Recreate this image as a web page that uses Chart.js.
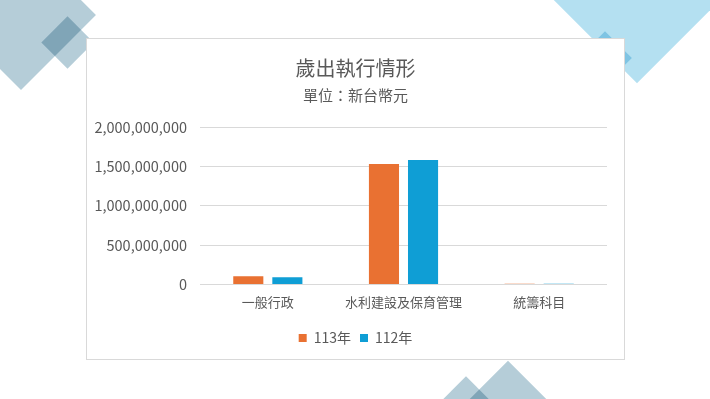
<!DOCTYPE html>
<html lang="zh-Hant">
<head>
  <meta charset="UTF-8" />
  <title>歲出執行情形</title>
  <script src="https://cdn.jsdelivr.net/npm/chart.js"></script>
  <style>
    * { box-sizing: border-box; }

    body {
      margin: 0;
      width: 710px;
      height: 399px;
      overflow: hidden;
      background: #fff;
      position: relative;
      font-family: 'Noto Sans CJK TC', sans-serif;
    }

    .deco {
      position: absolute;
      transform: rotate(45deg);
      mix-blend-mode: multiply;
    }
    .steel { background: #b5cdd8; }
    .sky { background: #b4e0f1; }

    .card {
      position: absolute;
      left: 86px;
      top: 38px;
      width: 539px;
      height: 322px;
      background: #fff;
      border: 1px solid #d9d9d9;
      z-index: 2;
    }
  </style>
</head>
<body>

<!-- background diamonds -->
<div class="deco steel" style="left:-32px; top:-38px; width:106px; height:106px;"></div>
<div class="deco steel" style="left:49px; top:24px; width:37px; height:37px;"></div>
<div class="deco sky" style="left:564px; top:-93px; width:146px; height:146px;"></div>
<div class="deco sky" style="left:586px; top:39px; width:38px; height:38px;"></div>
<div class="deco steel" style="left:476px; top:374px; width:64px; height:64px;"></div>
<div class="deco steel" style="left:445px; top:385px; width:42px; height:42px;"></div>

<div class="card">
  <canvas id="budgetChart" width="537" height="320"></canvas>
</div>

<script>
  const categories = ['一般行政', '水利建設及保育管理', '統籌科目'];
  const seriesNames = ['113年', '112年'];
  const values113 = [105000000, 1530000000, 8000000];
  const values112 = [92000000, 1580000000, 7000000];
  const yTicks = [0, 500000000, 1000000000, 1500000000, 2000000000];

  const textColor = '#595959';
  const fontFamily = "'Noto Sans CJK TC', sans-serif";

  const ctx = document.getElementById('budgetChart').getContext('2d');

  new Chart(ctx, {
    type: 'bar',
    data: {
      labels: categories,
      datasets: [
        { label: seriesNames[0], data: values113, backgroundColor: '#e97132' },
        { label: seriesNames[1], data: values112, backgroundColor: '#0f9ed5' }
      ]
    },
    options: {
      responsive: false,
      animation: false,
      categoryPercentage: 0.576,
      barPercentage: 0.77,
      layout: { padding: { left: 0, right: 0, top: 0, bottom: 4 } },
      plugins: {
        title: {
          display: true,
          text: '歲出執行情形',
          color: textColor,
          font: { family: fontFamily, size: 20, weight: 'normal' },
          padding: { top: 17, bottom: 6 }
        },
        subtitle: {
          display: true,
          text: '單位：新台幣元',
          color: textColor,
          font: { family: fontFamily, size: 15 },
          padding: { top: 0, bottom: 23 }
        },
        legend: {
          position: 'bottom',
          labels: {
            color: textColor,
            boxWidth: 8,
            boxHeight: 8,
            padding: 9,
            font: { family: fontFamily, size: 14 }
          }
        },
        tooltip: { enabled: false }
      },
      scales: {
        x: {
          grid: { display: false },
          border: { display: false },
          afterFit: axis => {
            axis.height += 10;
          },
          ticks: {
            color: textColor,
            padding: 2,
            font: { family: fontFamily, size: 13 }
          }
        },
        y: {
          min: 0,
          max: 2000000000,
          afterBuildTicks: axis => {
            axis.ticks = yTicks.map(v => ({ value: v }));
          },
          afterFit: axis => {
            axis.width = 113;
          },
          grid: { color: '#d9d9d9', drawTicks: false },
          border: { display: false },
          ticks: {
            color: textColor,
            padding: 13,
            font: { family: fontFamily, size: 14.5 },
            callback: v => v.toLocaleString('en-US')
          }
        },
        // empty right-hand spacer so the plot stops short of the card edge
        spacer: {
          position: 'right',
          grid: { display: false },
          border: { display: false },
          ticks: { display: false },
          afterFit: axis => {
            axis.width = 17;
          }
        }
      }
    }
  });
</script>

</body>
</html>
